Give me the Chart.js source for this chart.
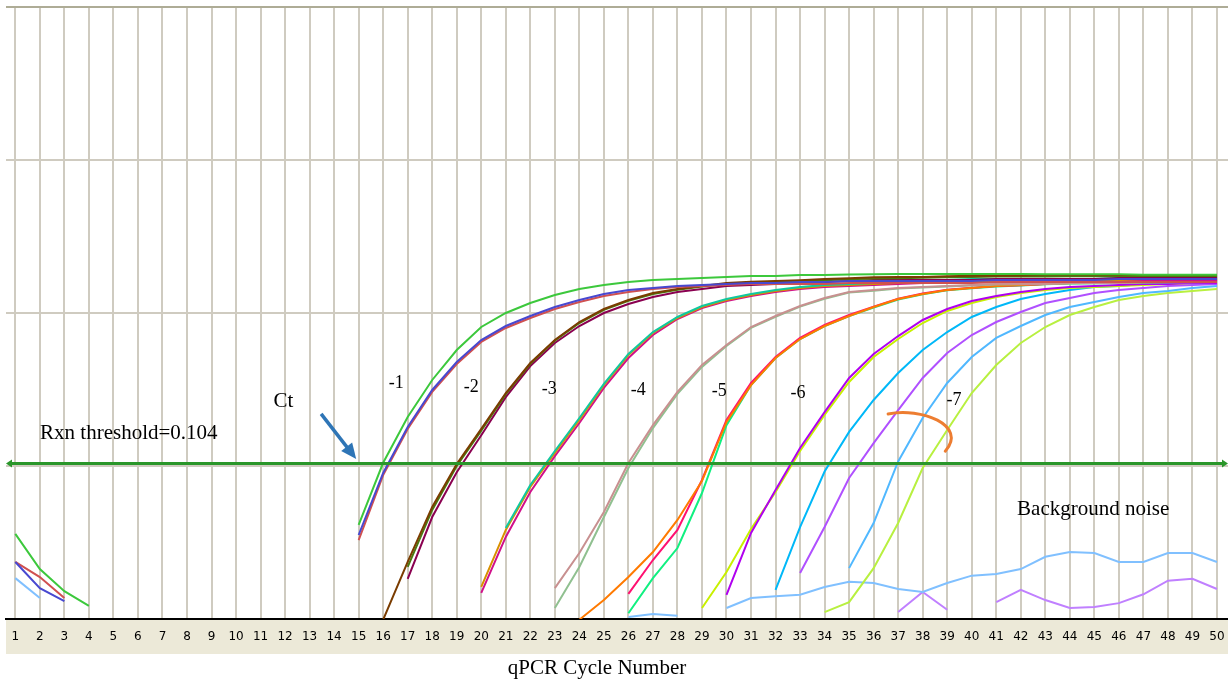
<!DOCTYPE html>
<html>
<head>
<meta charset="utf-8">
<script src="https://cdn.jsdelivr.net/npm/chart.js@4/dist/chart.umd.min.js"></script>
<style>
  html, body { margin: 0; padding: 0; background: #fff; }
  canvas { display: block; }
</style>
</head>
<body>
<canvas id="qpcrCanvas" width="1228" height="681"></canvas>
<script>
// cycle numbers on the x axis
const CYCLES = [1, 2, 3, 4, 5, 6, 7, 8, 9, 10, 11, 12, 13, 14, 15, 16, 17, 18, 19, 20,
  21, 22, 23, 24, 25, 26, 27, 28, 29, 30, 31, 32, 33, 34, 35, 36, 37, 38, 39, 40,
  41, 42, 43, 44, 45, 46, 47, 48, 49, 50];
const X_MIN = 0.62;
const X_MAX = 50.45;
// log axis, one grid line per decade
const Y_GRID = [0.01, 0.1, 1, 10, 100];
const THRESHOLD = 0.104;

// delta Rn, each array starts at the cycle given in SERIES
const DIL1_GREEN_EARLY = [0.0360, 0.0212, 0.0152, 0.0122];
const DIL1_GREEN = [0.0412, 0.105, 0.209, 0.365, 0.573, 0.81, 1.00, 1.162, 1.311, 1.435,
  1.524, 1.595, 1.643, 1.668, 1.693, 1.719, 1.745, 1.745, 1.772, 1.772,
  1.785, 1.79, 1.80, 1.80, 1.80, 1.80, 1.80, 1.80, 1.79, 1.79, 1.79, 1.79, 1.78, 1.78, 1.78, 1.78];
const DIL1_BLUE_EARLY = [0.0236, 0.0159, 0.0131];
const DIL1_BLUE = [0.0354, 0.090, 0.180, 0.314, 0.478, 0.666, 0.822, 0.956, 1.094, 1.216,
  1.331, 1.414, 1.457, 1.501, 1.524, 1.547, 1.571, 1.571, 1.595, 1.595,
  1.619, 1.619, 1.619, 1.619, 1.619, 1.619, 1.643, 1.643, 1.643, 1.643, 1.643, 1.668, 1.668, 1.668, 1.668, 1.668];
const DIL1_RED_EARLY = [0.0236, 0.0188, 0.0137];
const DIL1_RED = [0.0328, 0.0873, 0.1746, 0.305, 0.464, 0.647, 0.798, 0.928, 1.062, 1.180,
  1.291, 1.372, 1.435, 1.479, 1.501, 1.524, 1.547, 1.547, 1.547, 1.547,
  1.571, 1.571, 1.571, 1.571, 1.571, 1.571, 1.595, 1.595, 1.595, 1.595, 1.595, 1.595, 1.595, 1.595, 1.595, 1.595];

const DIL2_BROWN = [0.0099, 0.0236, 0.054, 0.103, 0.175, 0.300, 0.471, 0.666, 0.873, 1.062,
  1.216, 1.351, 1.435, 1.501, 1.571, 1.60, 1.62, 1.64, 1.67, 1.69,
  1.71, 1.72, 1.72, 1.74, 1.75, 1.75, 1.76, 1.77, 1.77, 1.77, 1.77, 1.77, 1.77, 1.77, 1.77];
const DIL2_OLIVE = [0.0219, 0.0516, 0.100, 0.170, 0.295, 0.465, 0.66, 0.86, 1.05, 1.20,
  1.33, 1.42, 1.49, 1.55, 1.58, 1.60, 1.62, 1.64, 1.66, 1.68,
  1.69, 1.70, 1.71, 1.72, 1.73, 1.73, 1.735, 1.74, 1.74, 1.745, 1.745, 1.745, 1.745, 1.745];
const DIL2_MAROON = [0.0183, 0.0464, 0.091, 0.159, 0.282, 0.450, 0.637, 0.822, 1.000, 1.145,
  1.272, 1.372, 1.435, 1.501, 1.524, 1.547, 1.571, 1.595, 1.619, 1.643,
  1.643, 1.643, 1.643, 1.643, 1.668, 1.668, 1.668, 1.668, 1.668, 1.693, 1.693, 1.693, 1.693, 1.693];

const DIL3_GOLD = [0.0162, 0.0382, 0.0729, 0.1216, 0.200, 0.338, 0.531, 0.740, 0.928, 1.094,
  1.216, 1.311, 1.392, 1.457, 1.501, 1.524, 1.547, 1.571, 1.595, 1.619,
  1.619, 1.619, 1.643, 1.643, 1.643, 1.643, 1.643, 1.668, 1.668, 1.668, 1.668];
const DIL3_MAGENTA = [0.0148, 0.0344, 0.0676, 0.116, 0.191, 0.324, 0.508, 0.718, 0.914, 1.078,
  1.198, 1.291, 1.372, 1.435, 1.479, 1.501, 1.524, 1.547, 1.571, 1.595,
  1.595, 1.595, 1.595, 1.619, 1.619, 1.619, 1.619, 1.619, 1.619, 1.619, 1.619];
const DIL3_TEAL = [0.0393, 0.0751, 0.1253, 0.206, 0.344, 0.540, 0.751, 0.942, 1.111, 1.234,
  1.331, 1.414, 1.479, 1.524, 1.547, 1.571, 1.595, 1.619, 1.643, 1.668,
  1.668, 1.668, 1.668, 1.668, 1.668, 1.693, 1.693, 1.693, 1.693, 1.693];

const DIL4_ROSY = [0.0159, 0.0270, 0.0500, 0.1046, 0.185, 0.305, 0.457, 0.618, 0.810, 0.956,
  1.111, 1.253, 1.372, 1.414, 1.457, 1.479, 1.501, 1.524, 1.547, 1.547,
  1.547, 1.571, 1.571, 1.571, 1.595, 1.595, 1.595, 1.595];
const DIL4_SAGE = [0.0118, 0.0219, 0.0464, 0.097, 0.177, 0.296, 0.444, 0.609, 0.80, 0.945,
  1.10, 1.24, 1.36, 1.40, 1.445, 1.47, 1.49, 1.51, 1.535, 1.54,
  1.545, 1.56, 1.565, 1.57, 1.585, 1.59, 1.59, 1.595];

const DIL5_ORANGE = [0.0099, 0.0133, 0.0188, 0.0274, 0.0444, 0.0798, 0.194, 0.338, 0.508, 0.676,
  0.822, 0.956, 1.094, 1.234, 1.331, 1.414, 1.457, 1.501, 1.524, 1.547,
  1.571, 1.571, 1.571, 1.595, 1.595, 1.619, 1.619];
const DIL5_PINK = [0.0146, 0.0243, 0.0382, 0.0810, 0.200, 0.349, 0.516, 0.687, 0.835, 0.970,
  1.10, 1.24, 1.34, 1.42, 1.46, 1.50, 1.52, 1.545, 1.57, 1.57,
  1.575, 1.59, 1.595, 1.61, 1.615];
const DIL5_SPRING = [0.0109, 0.0185, 0.0291, 0.0666, 0.185, 0.338, 0.508, 0.676, 0.822, 0.956,
  1.085, 1.225, 1.325, 1.41, 1.45, 1.49, 1.515, 1.54, 1.56, 1.565,
  1.57, 1.585, 1.59, 1.60, 1.61];

const DIL6_VIOLET = [0.0144, 0.0365, 0.0697, 0.131, 0.225, 0.376, 0.540, 0.707, 0.90, 1.062,
  1.198, 1.291, 1.372, 1.435, 1.479, 1.501, 1.524, 1.547, 1.547, 1.571, 1.571];
const DIL6_LIME = [0.0118, 0.0203, 0.0387, 0.0676, 0.1253, 0.216, 0.354, 0.516, 0.676, 0.860,
  1.031, 1.162, 1.272, 1.351, 1.414, 1.457, 1.479, 1.501, 1.524, 1.547, 1.571, 1.595];
const DIL6_CYAN = [0.0155, 0.0399, 0.092, 0.167, 0.270, 0.405, 0.573, 0.751, 0.942, 1.094,
  1.234, 1.331, 1.414, 1.479, 1.501, 1.547, 1.571, 1.571, 1.571];

const DIL7_PURPLE = [0.0200, 0.0399, 0.0835, 0.141, 0.232, 0.376, 0.548, 0.718, 0.873, 1.015,
  1.162, 1.253, 1.351, 1.414, 1.457, 1.501, 1.524, 1.547];
const DIL7_SKY = [0.0215, 0.0424, 0.107, 0.206, 0.349, 0.516, 0.687, 0.822, 0.970, 1.094,
  1.180, 1.272, 1.351, 1.392, 1.457, 1.501];
const DIL7_LIME = [0.0111, 0.0129, 0.0215, 0.0424, 0.097, 0.172, 0.300, 0.457, 0.637, 0.810,
  0.970, 1.094, 1.216, 1.291, 1.351, 1.392, 1.435];

// background noise wells
const NOISE_BLUE_EARLY = [0.0185, 0.0137];
const NOISE_BLUE_MID = [0.0103, 0.0108, 0.0105];
const NOISE_BLUE_LATE = [0.0118, 0.0137, 0.0141, 0.0144, 0.0162, 0.0175, 0.0172, 0.0157, 0.0150, 0.0172,
  0.0192, 0.0197, 0.0212, 0.0255, 0.0274, 0.0270, 0.0236, 0.0236, 0.0270, 0.0270, 0.0236];
const NOISE_PURPLE_MID = [0.0111, 0.0150, 0.0115];
const NOISE_PURPLE_LATE = [0.0129, 0.0155, 0.0133, 0.0118, 0.0120, 0.0127, 0.0145, 0.0178, 0.0183, 0.0157];

// [start cycle, values] segments per well
const SERIES = [
  { label: '-1 a', color: '#3cc83c', segments: [[1, DIL1_GREEN_EARLY], [15, DIL1_GREEN]] },
  { label: '-1 b', color: '#4848d0', segments: [[1, DIL1_BLUE_EARLY], [15, DIL1_BLUE]] },
  { label: '-1 c', color: '#d05050', segments: [[1, DIL1_RED_EARLY], [15, DIL1_RED]] },
  { label: '-2 a', color: '#7a3c00', segments: [[16, DIL2_BROWN]] },
  { label: '-2 b', color: '#4a7a10', segments: [[17, DIL2_OLIVE]] },
  { label: '-2 c', color: '#8a0050', segments: [[17, DIL2_MAROON]] },
  { label: '-3 a', color: '#10c8a0', segments: [[21, DIL3_TEAL]] },
  { label: '-3 b', color: '#d89000', segments: [[20, DIL3_GOLD]] },
  { label: '-3 c', color: '#d0108a', segments: [[20, DIL3_MAGENTA]] },
  { label: '-4 a', color: '#c89090', segments: [[23, DIL4_ROSY]] },
  { label: '-4 b', color: '#90c090', segments: [[23, DIL4_SAGE]] },
  { label: '-5 a', color: '#ff7a00', segments: [[24, DIL5_ORANGE]] },
  { label: '-5 b', color: '#ff1070', segments: [[26, DIL5_PINK]] },
  { label: '-5 c', color: '#10f080', segments: [[26, DIL5_SPRING]] },
  { label: '-6 a', color: '#b000f0', segments: [[30, DIL6_VIOLET]] },
  { label: '-6 b', color: '#c8f000', segments: [[29, DIL6_LIME]] },
  { label: '-6 c', color: '#00b8f8', segments: [[32, DIL6_CYAN]] },
  { label: '-7 a', color: '#b050ff', segments: [[33, DIL7_PURPLE]] },
  { label: '-7 b', color: '#50b8ff', segments: [[35, DIL7_SKY]] },
  { label: '-7 c', color: '#b8f040', segments: [[34, DIL7_LIME]] },
  { label: 'noise a', color: '#80c0ff', segments: [[1, NOISE_BLUE_EARLY], [26, NOISE_BLUE_MID], [30, NOISE_BLUE_LATE]] },
  { label: 'noise b', color: '#c080ff', segments: [[37, NOISE_PURPLE_MID], [41, NOISE_PURPLE_LATE]] }
];

// annotations, placed in data coordinates (cycle, delta Rn)
const DILUTION_LABELS = [
  { text: '-1', x: 16.53, y: 0.349 },
  { text: '-2', x: 19.59, y: 0.328 },
  { text: '-3', x: 22.77, y: 0.319 },
  { text: '-4', x: 26.40, y: 0.314 },
  { text: '-5', x: 29.70, y: 0.309 },
  { text: '-6', x: 32.92, y: 0.300 },
  { text: '-7', x: 39.28, y: 0.270 }
];
const CT_LABEL = { text: 'Ct', x: 11.93, y: 0.266 };
const CT_ARROW = { from: [13.47, 0.219], to: [14.90, 0.111] };
const THRESHOLD_LABEL = { x: 2.01, y: 0.164 };
const NOISE_LABEL = { text: 'Background noise', x: 41.85, y: 0.0516 };
const CURL = [[36.59, 0.219], [37.90, 0.243], [39.86, 0.185], [38.92, 0.125]];
const AXIS_TITLE = { text: 'qPCR Cycle Number', x: 24.72 };

function toPoints(segments) {
  const vals = CYCLES.map(() => null);
  segments.forEach(([start, arr]) => {
    arr.forEach((v, i) => { vals[start - 1 + i] = v; });
  });
  return CYCLES.map((c, i) => ({ x: c, y: vals[i] }));
}

function drawArrow(ctx, x1, y1, x2, y2, color, width, head) {
  const ang = Math.atan2(y2 - y1, x2 - x1);
  ctx.strokeStyle = color;
  ctx.fillStyle = color;
  ctx.lineWidth = width;
  ctx.beginPath();
  ctx.moveTo(x1, y1);
  ctx.lineTo(x2 - head * 0.7 * Math.cos(ang), y2 - head * 0.7 * Math.sin(ang));
  ctx.stroke();
  ctx.beginPath();
  ctx.moveTo(x2, y2);
  ctx.lineTo(x2 - head * Math.cos(ang - 0.42), y2 - head * Math.sin(ang - 0.42));
  ctx.lineTo(x2 - head * Math.cos(ang + 0.42), y2 - head * Math.sin(ang + 0.42));
  ctx.closePath();
  ctx.fill();
}

const overlay = {
  id: 'overlay',
  beforeDraw(chart) {
    const { ctx, chartArea: a } = chart;
    ctx.save();
    ctx.fillStyle = '#ece9d8';
    ctx.fillRect(a.left, a.bottom, a.right - a.left, 35);
    ctx.restore();
  },
  afterDatasetsDraw(chart) {
    const { ctx, chartArea: a, scales: { x, y } } = chart;
    ctx.save();

    // threshold line with arrow ends
    const ty = y.getPixelForValue(THRESHOLD);
    ctx.strokeStyle = '#2a962a';
    ctx.fillStyle = '#2a962a';
    ctx.lineWidth = 3;
    ctx.beginPath();
    ctx.moveTo(a.left + 3, ty);
    ctx.lineTo(a.right - 3, ty);
    ctx.stroke();
    ctx.beginPath();
    ctx.moveTo(a.left, ty);
    ctx.lineTo(a.left + 6, ty - 4);
    ctx.lineTo(a.left + 6, ty + 4);
    ctx.closePath();
    ctx.fill();
    ctx.beginPath();
    ctx.moveTo(a.right, ty);
    ctx.lineTo(a.right - 6, ty - 4);
    ctx.lineTo(a.right - 6, ty + 4);
    ctx.closePath();
    ctx.fill();

    ctx.fillStyle = '#000';
    ctx.textBaseline = 'middle';
    ctx.textAlign = 'center';
    ctx.font = '18px "Liberation Serif", "Times New Roman", serif';
    DILUTION_LABELS.forEach(l => {
      ctx.fillText(l.text, x.getPixelForValue(l.x), y.getPixelForValue(l.y));
    });

    ctx.font = '21px "Liberation Serif", "Times New Roman", serif';
    ctx.fillText(CT_LABEL.text, x.getPixelForValue(CT_LABEL.x), y.getPixelForValue(CT_LABEL.y));
    ctx.textAlign = 'left';
    ctx.fillText('Rxn threshold=' + THRESHOLD, x.getPixelForValue(THRESHOLD_LABEL.x), y.getPixelForValue(THRESHOLD_LABEL.y));
    ctx.fillText(NOISE_LABEL.text, x.getPixelForValue(NOISE_LABEL.x), y.getPixelForValue(NOISE_LABEL.y));

    drawArrow(ctx,
      x.getPixelForValue(CT_ARROW.from[0]), y.getPixelForValue(CT_ARROW.from[1]),
      x.getPixelForValue(CT_ARROW.to[0]), y.getPixelForValue(CT_ARROW.to[1]),
      '#2e75b6', 3.5, 17);

    // hand drawn curl near -7
    const p = CURL.map(([cx, cy]) => [x.getPixelForValue(cx), y.getPixelForValue(cy)]);
    ctx.strokeStyle = '#ed7d31';
    ctx.lineWidth = 3;
    ctx.lineCap = 'round';
    ctx.beginPath();
    ctx.moveTo(p[0][0], p[0][1]);
    ctx.bezierCurveTo(p[1][0], p[1][1], p[2][0], p[2][1], p[3][0], p[3][1]);
    ctx.stroke();

    ctx.restore();
  },
  afterDraw(chart) {
    const { ctx, chartArea: a, scales: { x } } = chart;
    ctx.save();
    ctx.fillStyle = '#000';
    ctx.textAlign = 'center';
    ctx.textBaseline = 'middle';
    ctx.font = '21px "Liberation Serif", "Times New Roman", serif';
    ctx.fillText(AXIS_TITLE.text, x.getPixelForValue(AXIS_TITLE.x), a.bottom + 49);
    ctx.restore();
  }
};

new Chart(document.getElementById('qpcrCanvas'), {
  type: 'line',
  data: {
    datasets: SERIES.map(s => ({
      label: s.label,
      data: toPoints(s.segments),
      borderColor: s.color,
      backgroundColor: s.color,
      borderWidth: 2,
      pointRadius: 0,
      tension: 0,
      spanGaps: false,
      clip: 0
    }))
  },
  options: {
    responsive: false,
    animation: false,
    devicePixelRatio: 1,
    layout: { padding: { left: 6, top: 7, right: 0, bottom: 0 } },
    plugins: { legend: { display: false }, tooltip: { enabled: false } },
    scales: {
      x: {
        type: 'linear',
        min: X_MIN,
        max: X_MAX,
        afterBuildTicks: s => { s.ticks = CYCLES.map(v => ({ value: v })); },
        afterFit: s => { s.height = 62; s.paddingLeft = 0; s.paddingRight = 0; },
        ticks: {
          autoSkip: false,
          maxRotation: 0,
          padding: 11,
          color: '#000',
          font: { family: 'DejaVu Sans', size: 12 },
          callback: v => String(v)
        },
        border: { display: true, color: '#000', width: 2 },
        grid: { color: '#cfcbc0', lineWidth: 2, drawTicks: false }
      },
      y: {
        type: 'logarithmic',
        min: Y_GRID[0],
        max: Y_GRID[Y_GRID.length - 1],
        afterBuildTicks: s => { s.ticks = Y_GRID.map(v => ({ value: v })); },
        afterFit: s => { s.width = 0; s.paddingTop = 0; s.paddingBottom = 0; },
        ticks: { display: false },
        border: { display: false },
        grid: {
          color: c => (c.tick && c.tick.value === 100 ? '#aeac96' : '#cfcbc0'),
          lineWidth: 2,
          drawTicks: false
        }
      }
    }
  },
  plugins: [overlay]
});
</script>
</body>
</html>
